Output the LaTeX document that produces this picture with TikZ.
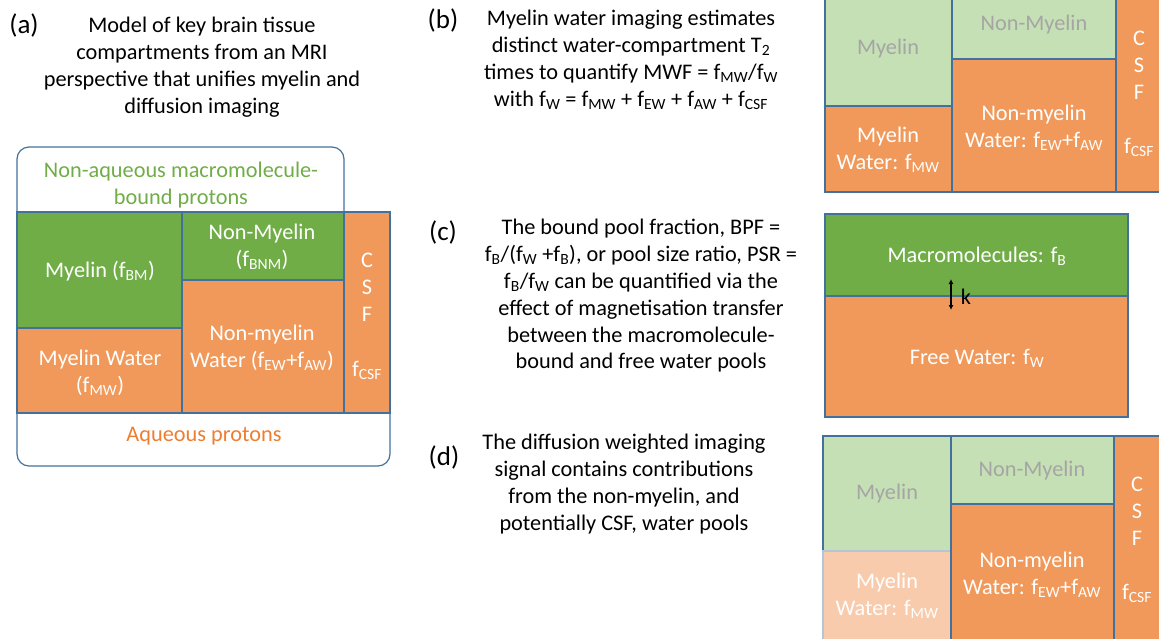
\documentclass[tikz,border=0pt]{standalone}
\usepackage{fontspec}
\setmainfont{Carlito}
\usetikzlibrary{arrows.meta}

\definecolor{mgreen}{HTML}{70AD47}
\definecolor{lgreen}{HTML}{C5E0B4}
\definecolor{morange}{HTML}{F0995B}
\definecolor{lorange}{HTML}{F8CBAD}
\definecolor{torange}{HTML}{ED7D31}
\definecolor{boxline}{HTML}{41719C}
\definecolor{fadetext}{HTML}{A5A5A5}

\newcommand{\fs}[1]{f\textsubscript{#1}}

\tikzset{
  comp/.style={draw=boxline, line width=1.2pt},
  txt/.style={align=center, inner sep=0pt, font=\fontsize{22.3}{26.8}\selectfont},
  intxt/.style={txt, text=white},
  fadetxt/.style={txt, text=fadetext},
  panel/.style={inner sep=0pt, font=\fontsize{27}{30}\selectfont},
}

\begin{document}
\begin{tikzpicture}[x=1pt,y=-1pt]

\useasboundingbox (0,0) rectangle (1159,638);
\clip (0,0) rectangle (1159,638);

%--------------------------------------------------- (a)
\node (labA) at(24,25) [panel] {(a)};
\node (titleA) at(202,67) [txt] {Model of key brain tissue\\compartments from an MRI\\perspective that unifies myelin and\\diffusion imaging};

\draw [boxline, line width=1.2pt, rounded corners=12] (17,300) |- (344,147) -- (344,212);
\draw [boxline, line width=1.2pt, rounded corners=12] (17,300) |- (390,466) -- (390,413);

\node (boundA) at(181,185) [txt, text=mgreen] {Non-aqueous macromolecule-\\bound protons};
\node (aqA) at(204,436) [txt, text=torange] {Aqueous protons};

\path [comp, fill=mgreen] (17,212) rectangle (182,328);
\path [comp, fill=mgreen] (182,212) rectangle (344,280);
\path [comp, fill=morange] (17,328) rectangle (182,413);
\path [comp, fill=morange] (182,280) rectangle (344,413);
\path [comp, fill=morange] (344,212) rectangle (390,413);

\node (myelA) at(100,271) [intxt] {Myelin (\fs{BM})};
\node (nonmyelA) at(262,247) [intxt] {Non-Myelin\\(\fs{BNM})};
\node (mwA) at(100,373) [intxt] {Myelin Water\\(\fs{MW})};
\node (nmwA) at(262,348) [intxt] {Non-myelin\\Water (\fs{EW}+\fs{AW})};
\node (csfA) at(367,287) [intxt] {C\\S\\F};
\node (fcsfA) at(367,370) [intxt] {\fs{CSF}};

%--------------------------------------------------- (b)
\node (labB) at(443,20) [panel] {(b)};
\node (textB) at(631,60) [txt] {Myelin water imaging estimates\\distinct water-compartment T\textsubscript{2}\\times to quantify MWF = \fs{MW}/\fs{W}\\with \fs{W} = \fs{MW} + \fs{EW} + \fs{AW} + \fs{CSF}};

\path [comp, fill=lgreen] (825,-2) rectangle (952,106);
\path [comp, fill=lgreen] (952,-2) rectangle (1116,59);
\path [comp, fill=morange] (825,106) rectangle (952,192);
\path [comp, fill=morange] (952,59) rectangle (1116,192);
\path [comp, fill=morange] (1116,-2) rectangle (1170,192);

\node (myelB) at(888,49) [fadetxt] {Myelin};
\node (nonmyelB) at(1034,25) [fadetxt] {Non-Myelin};
\node (mwB) at(888,150) [intxt] {Myelin\\Water: \fs{MW}};
\node (nmwB) at(1034,128) [intxt] {Non-myelin\\Water: \fs{EW}+\fs{AW}};
\node (csfB) at(1139,65) [intxt] {C\\S\\F};
\node (fcsfB) at(1139,147) [intxt] {\fs{CSF}};

%--------------------------------------------------- (c)
\node (labC) at(443,232) [panel] {(c)};
\node (textC) at(641,296) [txt] {The bound pool fraction, BPF =\\\fs{B}/(\fs{W} +\fs{B}), or pool size ratio, PSR =\\\fs{B}/\fs{W} can be quantified via the\\effect of magnetisation transfer\\between the macromolecule-\\bound and free water pools};

\path [comp, fill=mgreen] (825,214) rectangle (1128,296);
\path [comp, fill=morange] (825,296) rectangle (1128,417);

\node (macroC) at(977,256) [intxt] {Macromolecules: \fs{B}};
\node (freeC) at(977,358) [intxt] {Free Water: \fs{W}};

\coordinate (kTop) at(951,279);
\coordinate (kBot) at(951,310);
\draw [{Latex[length=5pt,width=5pt]}-{Latex[length=5pt,width=5pt]}, line width=1.3pt] (kTop) -- (kBot);
\node (kC) at(966,297) [txt] {k};

%--------------------------------------------------- (d)
\node (labD) at(444,457) [panel] {(d)};
\node (textD) at(624,484) [txt] {The diffusion weighted imaging\\signal contains contributions\\from the non-myelin, and\\potentially CSF, water pools};

\path [comp, fill=lgreen] (823,436) rectangle (951,551);
\path [comp, fill=lgreen] (951,436) rectangle (1114,504);
\path [draw=boxline!40, line width=1.2pt, fill=lorange] (823,551) rectangle (951,645);
\path [comp, fill=morange] (951,504) rectangle (1114,645);
\path [comp, fill=morange] (1114,436) rectangle (1170,645);

\node (myelD) at(887,494) [fadetxt] {Myelin};
\node (nonmyelD) at(1032,471) [fadetxt] {Non-Myelin};
\node (mwD) at(887,596) [intxt] {Myelin\\Water: \fs{MW}};
\node (nmwD) at(1032,575) [intxt] {Non-myelin\\Water: \fs{EW}+\fs{AW}};
\node (csfD) at(1137,511) [intxt] {C\\S\\F};
\node (fcsfD) at(1137,593) [intxt] {\fs{CSF}};

\end{tikzpicture}
\end{document}
